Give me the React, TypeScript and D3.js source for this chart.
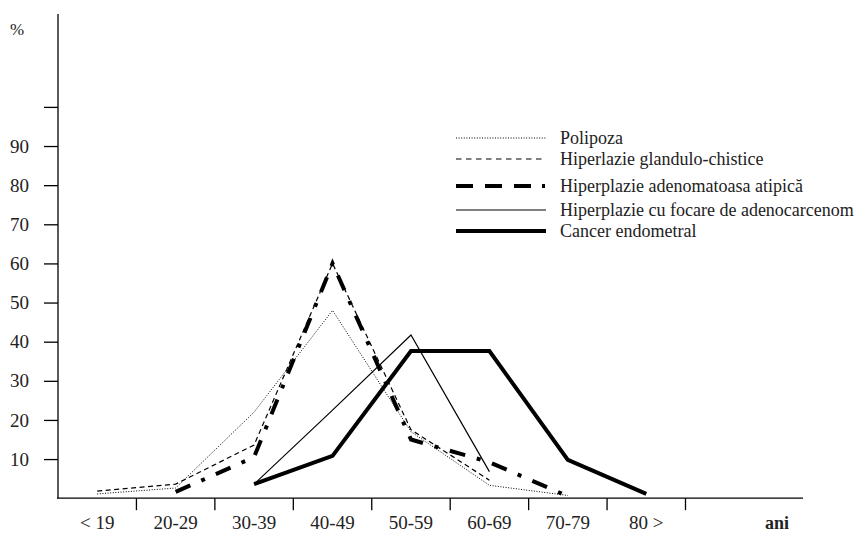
import React from "react";
import { select, scaleBand, scaleLinear, line, axisLeft } from "d3";

const categories = ["< 19", "20-29", "30-39", "40-49", "50-59", "60-69", "70-79", "80 >"];
const yTicks = [10, 20, 30, 40, 50, 60, 70, 80, 90, 100];

const polipoza = [1.1, 2.6, 22, 48, 17, 3.3, 0.7, null];
const glandulo = [1.8, 3.6, 13.6, 60, 17.5, 4.6, null, null];
const atipica = [null, 1.6, 10.5, 60, 15, 9.2, 0.5, null];
const focare = [null, null, 3.6, 22.5, 41.7, 6.8, null, null];
const cancer = [null, null, 3.6, 10.8, 37.6, 37.6, 9.8, 1.1];

const seriesNames = [
  "Polipoza",
  "Hiperlazie glandulo-chistice",
  "Hiperplazie adenomatoasa atipică",
  "Hiperplazie cu focare de adenocarcenom",
  "Cancer endometral",
];

// stroke styles per series: width, dash in chart, dash in legend
const styles = [
  { w: 1, dash: "1,1.6", legendDash: "1,1.6" },
  { w: 1.2, dash: "5,3.5", legendDash: "5.5,4.5" },
  { w: 4, dash: "16,12,4,12", legendDash: "17,12,17,12,17,11,3,30" },
  { w: 1.2, dash: null, legendDash: null },
  { w: 4, dash: null, legendDash: null },
];
const legendRows = [138, 159, 186, 210, 231];

const FONT = "'Liberation Serif', 'Times New Roman', serif";

export default function App() {
  const svgRef = React.useRef(null);
  const width = 862;
  const height = 533;

  React.useLayoutEffect(() => {
    const svg = select(svgRef.current);
    const left = 58;

    const x = scaleBand<string>().domain(categories).range([left, 685.5]).padding(0);
    const y = scaleLinear().domain([0, 100]).range([498.2, 106.9]);

    // y axis
    svg
      .append("line")
      .attr("x1", left)
      .attr("x2", left)
      .attr("y1", 14)
      .attr("y2", y(0))
      .attr("stroke", "#000")
      .attr("stroke-width", 1.3);

    const gy = svg
      .append("g")
      .attr("transform", `translate(${left},0)`)
      .call(
        axisLeft(y)
          .tickValues(yTicks)
          .tickSize(14)
          .tickPadding(15)
          .tickFormat((d) => (+d === 100 ? "" : `${d}`))
      );
    gy.select(".domain").remove();
    gy.selectAll("line").attr("stroke", "#000").attr("stroke-width", 1.3);
    gy.selectAll("text")
      .attr("font-family", FONT)
      .attr("font-size", 19)
      .attr("fill", "#222");
    gy.attr("font-family", null).attr("font-size", null);

    svg
      .append("text")
      .attr("x", 10)
      .attr("y", 35)
      .attr("font-family", FONT)
      .attr("font-size", 17)
      .attr("fill", "#222")
      .text("%");

    // x axis
    svg
      .append("line")
      .attr("x1", left - 1)
      .attr("x2", 803)
      .attr("y1", y(0))
      .attr("y2", y(0))
      .attr("stroke", "#000")
      .attr("stroke-width", 1.3);

    svg
      .selectAll("line.xtick")
      .data(categories)
      .join("line")
      .attr("class", "xtick")
      .attr("x1", (d) => (x(d) as number) + x.bandwidth())
      .attr("x2", (d) => (x(d) as number) + x.bandwidth())
      .attr("y1", y(0))
      .attr("y2", y(0) + 12)
      .attr("stroke", "#000")
      .attr("stroke-width", 1.3);

    svg
      .selectAll("text.xlabel")
      .data(categories)
      .join("text")
      .attr("class", "xlabel")
      .attr("x", (d) => (x(d) as number) + x.bandwidth() / 2)
      .attr("y", 528.5)
      .attr("text-anchor", "middle")
      .attr("font-family", FONT)
      .attr("font-size", 19)
      .attr("fill", "#222")
      .text((d) => d);

    svg
      .append("text")
      .attr("x", 777)
      .attr("y", 528.5)
      .attr("text-anchor", "middle")
      .attr("font-family", FONT)
      .attr("font-size", 18)
      .attr("font-weight", "bold")
      .attr("fill", "#222")
      .text("ani");

    // lines
    const allSeries = [polipoza, glandulo, atipica, focare, cancer];
    const lineGen = line<number | null>()
      .defined((d) => d !== null)
      .x((_, i) => (x(categories[i]) as number) + x.bandwidth() / 2)
      .y((d) => y(d as number));

    allSeries.forEach((values, i) => {
      const s = styles[i];
      svg
        .append("path")
        .attr("d", lineGen(values))
        .attr("fill", "none")
        .attr("stroke", "#000")
        .attr("stroke-width", s.w)
        .attr("stroke-linejoin", "miter")
        .attr("stroke-dasharray", s.dash);
    });

    // legend
    const lg = svg.append("g");
    seriesNames.forEach((name, i) => {
      const s = styles[i];
      const ly = legendRows[i];
      lg.append("line")
        .attr("x1", 456)
        .attr("x2", 546)
        .attr("y1", ly)
        .attr("y2", ly)
        .attr("stroke", "#000")
        .attr("stroke-width", s.w)
        .attr("stroke-dasharray", s.legendDash);
      lg.append("text")
        .attr("x", 560)
        .attr("y", ly + 5.5)
        .attr("font-family", FONT)
        .attr("font-size", 18)
        .attr("fill", "#222")
        .text(name);
    });

    return () => {
      svg.selectAll("*").remove();
    };
  }, []);

  return (
    <svg
      ref={svgRef}
      width={width}
      height={height}
      style={{ position: "absolute", left: 0, top: 0, background: "#fff" }}
    />
  );
}
